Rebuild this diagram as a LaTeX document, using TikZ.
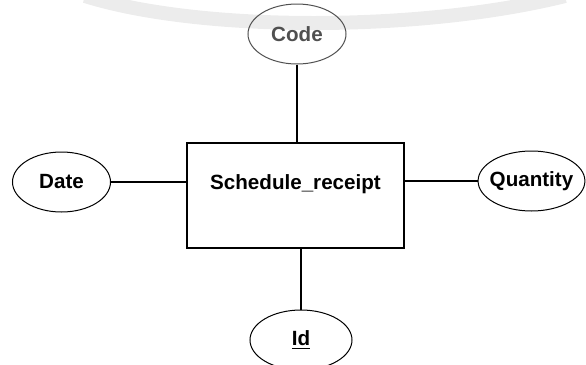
\documentclass[tikz,border=0pt]{standalone}
\usepackage{fontspec}
\setmainfont{Liberation Sans}
\usepackage{tikz}
\usetikzlibrary{shapes,positioning,shapes.geometric}
\definecolor{erfaded}{RGB}{80, 80, 80}
\definecolor{erband}{RGB}{236, 236, 236}

\begin{document}
\begin{tikzpicture}[
        x=0.5pt, y=-0.5pt,
        entity/.style={draw=black, line width=1pt, rectangle, minimum width=108.5pt, minimum height=52.5pt, align=center, font=\fontsize{10.3}{12}\selectfont\bfseries},
        attrib/.style={draw=black, line width=0.5pt, ellipse, minimum width=49pt, minimum height=30pt, inner sep=0pt, align=center, font=\fontsize{10.3}{12}\selectfont\bfseries},
        faded/.style={draw=erfaded, text=erfaded},
        conn/.style={line width=0.8pt, color=black}
    ]
        \useasboundingbox (0,0) rectangle (586,365);
        % faint band from the scan
        \draw[erband, line width=7pt] (85,-4) .. controls (200,32) and (420,32) .. (565,-4);

        % Nodes
        \node[entity] (sched) at (295.5, 195.5) {\raisebox{13pt}{Schedule\_receipt}};
        \node[attrib, faded] (code) at (297, 34) {Code};
        \node[attrib] (date) at (61.5, 182) {Date};
        \node[attrib, inner xsep=-2pt] (qty) at (531.5, 181) {Quantity};
        \node[attrib, minimum width=51pt] (id) at (301, 340) {\underline{Id}};

        % Connectors
        \draw[conn] (code) -- (code |- sched.north);
        \draw[conn] (date) -- (date -| sched.west);
        \draw[conn] (sched.east |- qty) -- (qty);
        \draw[conn] (id |- sched.south) -- (id);
    \end{tikzpicture}
\end{document}
